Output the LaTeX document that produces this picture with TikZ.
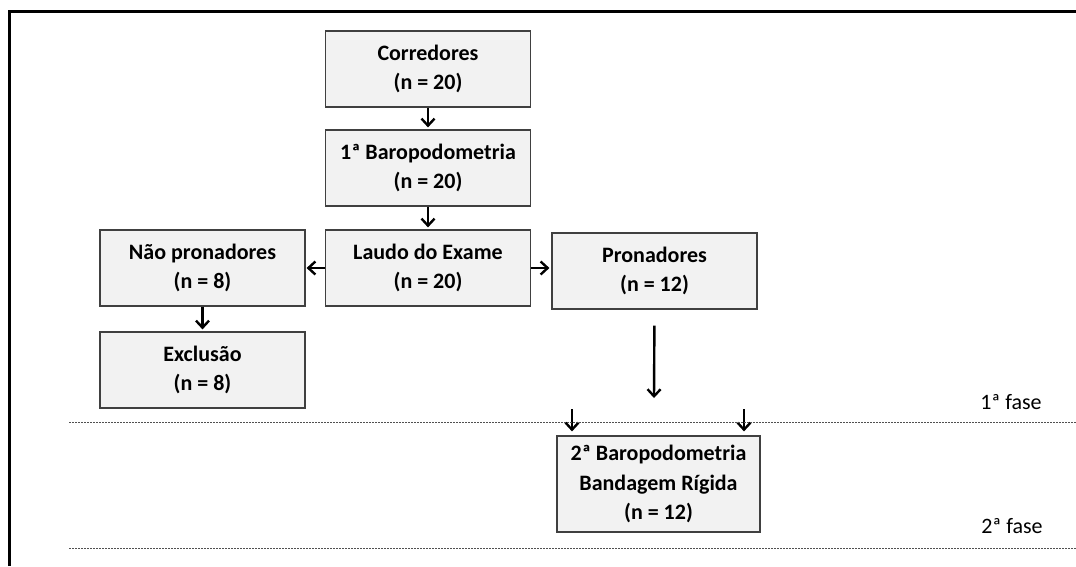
\documentclass[tikz,border=0pt]{standalone}
\usepackage{fontspec}
\setmainfont{Carlito}
\usepackage{tikz}
\usetikzlibrary{positioning,arrows.meta}
\definecolor{boxfill}{HTML}{F2F2F2}
\definecolor{boxline}{HTML}{404040}
\definecolor{phaseline}{HTML}{505050}

\begin{document}
\begin{tikzpicture}[x=1pt, y=-1pt,
  boxnode/.style={draw=boxline, fill=boxfill, line width=1.2pt, shape=rectangle, minimum width=205pt, minimum height=76pt, align=center, font=\fontsize{22}{29.5}\selectfont\bfseries},
  flow/.style={-{Straight Barb[length=7pt,width=13pt]}, line width=2.4pt},
  phase/.style={dash pattern=on 2pt off 1pt, line width=0.9pt, draw=phaseline},
  phaselabel/.style={font=\fontsize{22}{26}\selectfont}]
\useasboundingbox (0,0) rectangle (1076,566);
% frame
\draw[line width=3pt] (9,566) -- (9,11.5) -- (1076,11.5);
% phase 1
\node[boxnode] (cor) at (428,69) {Corredores\\(n = 20)};
\node[boxnode, below of=cor, node distance=99pt] (baro1) {1ª Baropodometria\\(n = 20)};
\node[boxnode, below of=baro1, node distance=100pt] (laudo) {Laudo do Exame\\(n = 20)};
\node[boxnode, left of=laudo, node distance=225.5pt] (nao) {Não pronadores\\(n = 8)};
\node[boxnode, below of=nao, node distance=102pt] (exc) {Exclusão\\(n = 8)};
\node[boxnode, right of=laudo, node distance=226.5pt, yshift=-3pt] (pron) {Pronadores\\(n = 12)};
% phase 2
\node[boxnode, minimum width=203pt, minimum height=96pt] (baro2) at (658.5,484) {2ª Baropodometria\\Bandagem Rígida\\(n = 12)};
\coordinate (drop) at (654,398);
\coordinate (inA) at (572,409);
\coordinate (inB) at (744,409);
\draw[flow, shorten >=2pt] (cor) -- (baro1);
\draw[flow, shorten >=2pt] (baro1) -- (laudo);
\draw[flow, shorten >=1pt] (laudo) -- (nao);
\draw[flow, shorten >=2pt] (laudo.east) -- (laudo.east -| pron.west);
\draw[flow, shorten >=2pt] (nao.south) -- (nao.south |- exc.north);
\draw[flow, shorten <=16pt] (pron.south) -- (drop);
\draw[flow, shorten >=4pt] (inA) -- (inA |- baro2.north);
\draw[flow, shorten >=4pt] (inB) -- (inB |- baro2.north);
% phase lines
\draw[phase] (69,422) -- (1076,422);
\draw[phase] (69,548) -- (1076,548);
\node[phaselabel] (fase1) at (1011,402) {1ª fase};
\node[phaselabel] (fase2) at (1012,526) {2ª fase};
\end{tikzpicture}
\end{document}
